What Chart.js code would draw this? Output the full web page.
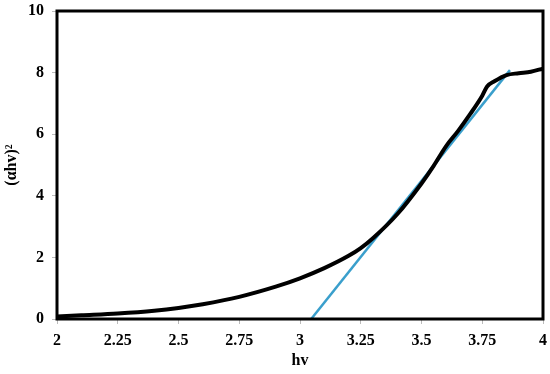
<!DOCTYPE html>
<html>
<head>
<meta charset="utf-8">
<script src="https://cdn.jsdelivr.net/npm/chart.js@4.4.0/dist/chart.umd.min.js"></script>
<style>
  html, body { margin: 0; padding: 0; background: #fff; }
  #wrap { width: 550px; height: 374px; }
</style>
</head>
<body>
<div id="wrap"><canvas id="tauc"></canvas></div>
<script>
// measured curve (hv, (ahv)^2)
var hv = [2, 2.1, 2.25, 2.4, 2.5, 2.6, 2.75, 2.9, 3, 3.1, 3.2, 3.25, 3.3, 3.4, 3.5, 3.55, 3.6, 3.65, 3.7, 3.75, 3.77, 3.8, 3.85, 3.9, 3.95, 4];
var ahv2 = [0.08, 0.12, 0.18, 0.27, 0.36, 0.48, 0.72, 1.05, 1.32, 1.65, 2.05, 2.3, 2.62, 3.4, 4.4, 4.97, 5.6, 6.1, 6.65, 7.25, 7.55, 7.72, 7.92, 7.98, 8.03, 8.13];
// linear fit line endpoints
var fitX = [3.046, 3.864];
var fitY = [0, 8.08];
var xTicks = [2, 2.25, 2.5, 2.75, 3, 3.25, 3.5, 3.75, 4];

function pts(xs, ys) {
  return xs.map(function (x, i) { return { x: x, y: ys[i] }; });
}

var frame = {
  id: 'frame',
  afterDraw: function (chart) {
    var a = chart.chartArea, c = chart.ctx;
    c.save();
    c.strokeStyle = '#000';
    c.lineWidth = 3;
    c.strokeRect(a.left, a.top, a.right - a.left, a.bottom - a.top);
    c.restore();
  }
};

var font = { family: '"Liberation Serif", "Times New Roman", serif', size: 16, weight: 'bold' };

var ctx = document.getElementById('tauc').getContext('2d');
var chart = new Chart(ctx, {
  type: 'scatter',
  data: {
    datasets: [{
      data: pts(hv, ahv2),
      showLine: true,
      borderColor: '#000',
      borderWidth: 4,
      pointRadius: 0,
      cubicInterpolationMode: 'monotone'
    }, {
      data: pts(fitX, fitY),
      showLine: true,
      borderColor: '#3a9fcc',
      borderWidth: 2.5,
      pointRadius: 0
    }]
  },
  options: {
    responsive: true,
    maintainAspectRatio: false,
    animation: false,
    layout: { autoPadding: false, padding: { top: 11, right: 7, left: 0, bottom: 0 } },
    plugins: { legend: { display: false }, tooltip: { enabled: false } },
    scales: {
      x: {
        type: 'linear',
        min: 2, max: 4,
        afterBuildTicks: function (s) { s.ticks = xTicks.map(function (v) { return { value: v }; }); },
        afterFit: function (s) { s.height = 55; s.paddingLeft = 0; s.paddingRight = 0; },
        grid: { drawOnChartArea: false, drawTicks: true, tickLength: 5, color: '#bbb' },
        border: { display: false },
        ticks: { color: '#000', font: font, padding: 7, maxRotation: 0, callback: function (v) { return String(v); } },
        title: { display: true, text: 'hv', color: '#000', font: font, padding: { top: 0, bottom: 4 } }
      },
      y: {
        min: 0, max: 10,
        afterFit: function (s) { s.width = 57; s.paddingTop = 0; s.paddingBottom = 0; },
        ticks: { stepSize: 2, color: '#000', font: font, padding: 8 },
        grid: { drawOnChartArea: false, drawTicks: true, tickLength: 5, color: '#bbb' },
        border: { display: false },
        title: { display: true, text: '(αhv)²', color: '#000', font: font, padding: { top: 2, bottom: 0 } }
      }
    }
  },
  plugins: [frame]
});
</script>
</body>
</html>
